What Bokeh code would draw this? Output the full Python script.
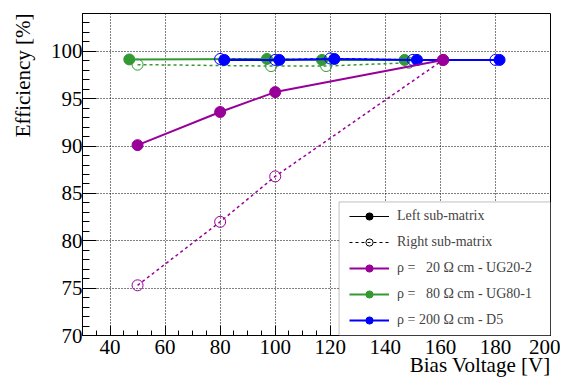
from bokeh.plotting import figure
from bokeh.models import (ColumnDataSource, Legend, LegendItem, BoxAnnotation, Title,
                          SingleIntervalTicker, Range1d)
from bokeh.embed import file_html
from bokeh.resources import INLINE

# ---- data ----
ug20_left_v = [50, 80, 100, 161]
ug20_left_eff = [90.1, 93.6, 95.7, 99.1]
ug20_right_v = [50, 80, 100, 161]
ug20_right_eff = [75.3, 82.0, 86.8, 99.1]

ug80_left_v = [47, 97, 117, 147]
ug80_left_eff = [99.15, 99.2, 99.1, 99.1]
ug80_right_v = [50, 98.5, 118.5, 148.5]
ug80_right_eff = [98.6, 98.45, 98.45, 98.8]

d5_left_v = [81.5, 101.5, 121.5, 151.5, 181.5]
d5_left_eff = [99.1, 99.1, 99.2, 99.1, 99.1]
d5_right_v = [80, 100, 120, 150, 180]
d5_right_eff = [99.2, 99.1, 99.25, 99.1, 99.1]

x_title = "Bias Voltage [V]"
y_title = "Efficiency [%]"
labels = ["Left sub-matrix", "Right sub-matrix",
          "ρ =   20 Ω cm - UG20-2", "ρ =   80 Ω cm - UG80-1", "ρ = 200 Ω cm - D5"]

X_MIN, X_MAX = 30, 200
Y_MIN, Y_MAX = 70, 104

PURPLE = "#990099"
GREEN = "#339933"
BLUE = "#0000ff"
FONT = "Liberation Serif"

p = figure(width=560, height=377, output_backend="svg", toolbar_location=None,
           x_range=Range1d(X_MIN, X_MAX), y_range=Range1d(Y_MIN, Y_MAX),
           min_border_left=74, min_border_right=10, min_border_top=13, min_border_bottom=10)
p.background_fill_color = "white"
p.border_fill_color = "white"
p.outline_line_color = "black"
p.outline_line_width = 1

# axes (ticks inside the frame, ROOT style)
p.xaxis.ticker = SingleIntervalTicker(interval=20, num_minor_ticks=4)
p.yaxis.ticker = SingleIntervalTicker(interval=5, num_minor_ticks=5)
p.xaxis.major_label_text_font = FONT
p.xaxis.major_label_text_font_size = "21px"
p.yaxis.major_label_text_font = FONT
p.yaxis.major_label_text_font_size = "21px"
for ax in (p.xaxis[0], p.yaxis[0]):
    ax.major_tick_out = 0
    ax.minor_tick_out = 0
    ax.axis_line_color = "black"
    ax.major_tick_line_color = "black"
    ax.minor_tick_line_color = "black"
    ax.major_label_text_color = "black"
    # blank, tiny axis label (keeps the serif font path for the tick labels)
    ax.axis_label = " "
    ax.axis_label_text_font = FONT
    ax.axis_label_text_font_size = "1px"
p.xaxis.major_tick_in = 10
p.xaxis.minor_tick_in = 5
p.yaxis.major_tick_in = 14
p.yaxis.minor_tick_in = 7
p.xaxis.major_label_standoff = 4
p.yaxis.major_label_standoff = 0
p.xaxis.axis_label_standoff = -10
p.yaxis.axis_label_standoff = 0

for g in (p.xgrid[0], p.ygrid[0]):
    g.grid_line_color = "black"
    g.grid_line_dash = "1 2"
    g.grid_line_width = 1

# axis titles, right/top aligned (ROOT style)
p.add_layout(Title(text=x_title, align="right", text_font=FONT, text_color="black",
                   text_font_size="21px", text_font_style="normal", standoff=1), "below")
p.add_layout(Title(text=y_title, align="right", text_font=FONT, text_color="black",
                   text_font_size="21px", text_font_style="normal", standoff=17), "left")

def series(xs, ys, color, dashed):
    src = ColumnDataSource(dict(x=xs, y=ys))
    ln = p.line("x", "y", source=src, line_color=color,
                line_width=1.5 if dashed else 2,
                line_dash="3 3" if dashed else "solid")
    if dashed:
        sc = p.scatter("x", "y", source=src, marker="circle", size=11,
                       fill_alpha=0, line_color=color, line_width=1)
    else:
        sc = p.scatter("x", "y", source=src, marker="circle", size=11,
                       fill_color=color, line_color=color, line_width=1)
    return ln, sc

series(ug80_right_v, ug80_right_eff, GREEN, True)
g_ln, g_sc = series(ug80_left_v, ug80_left_eff, GREEN, False)
series(d5_right_v, d5_right_eff, BLUE, True)
b_ln, b_sc = series(d5_left_v, d5_left_eff, BLUE, False)
series(ug20_right_v, ug20_right_eff, PURPLE, True)
m_ln, m_sc = series(ug20_left_v, ug20_left_eff, PURPLE, False)

# legend-only renderers for the left/right entries (no visible data)
nan = float("nan")
dummy = ColumnDataSource(dict(x=[nan], y=[nan]))
l_ln = p.line("x", "y", source=dummy, line_color="black", line_width=1)
l_sc = p.scatter("x", "y", source=dummy, marker="circle", size=11,
                 fill_color="black", line_color="black")
r_ln = p.line("x", "y", source=dummy, line_color="black", line_width=1, line_dash="3 3")
r_sc = p.scatter("x", "y", source=dummy, marker="circle", size=11,
                 fill_alpha=0, line_color="black")

box = BoxAnnotation(left=123.2, right=X_MAX, bottom=Y_MIN, top=84.1,
                    fill_color="white", fill_alpha=1,
                    line_color="#333333", line_width=1)
p.add_layout(box)

legend = Legend(items=[
    LegendItem(label=labels[0], renderers=[l_ln, l_sc]),
    LegendItem(label=labels[1], renderers=[r_ln, r_sc]),
    LegendItem(label=labels[2], renderers=[m_ln, m_sc]),
    LegendItem(label=labels[3], renderers=[g_ln, g_sc]),
    LegendItem(label=labels[4], renderers=[b_ln, b_sc]),
], location=(261, 0), margin=0, padding=6, spacing=8,
    glyph_width=40, glyph_height=18, label_height=18, label_standoff=8,
    label_text_font=FONT, label_text_font_size="14px",
    background_fill_alpha=0, border_line_alpha=0)
p.add_layout(legend)

open("out.html", "w").write(file_html(p, INLINE))
